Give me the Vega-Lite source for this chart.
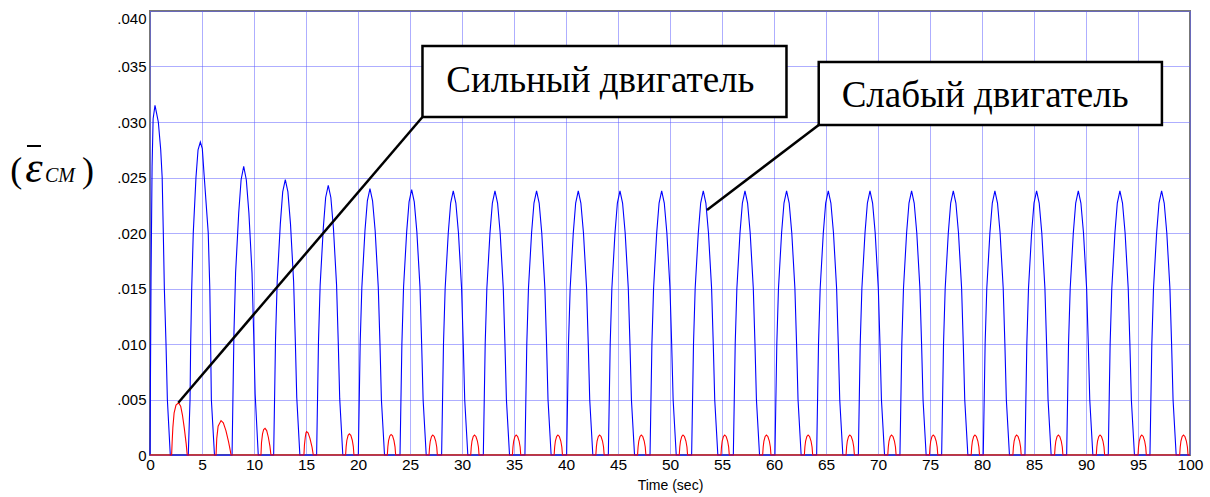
{
  "$schema": "https://vega.github.io/schema/vega-lite/v6.json",
  "autosize": {"type": "none"},
  "width": 1040,
  "height": 444,
  "padding": {"left": 150, "top": 11, "right": 20, "bottom": 42},
  "background": "white",
  "config": {"view": {"stroke": "#777777", "strokeWidth": 2}},
  "datasets": {
    "weak": [
      {"t":0,"v":0},{"t":0.1,"v":0.016},{"t":0.2,"v":0.026},{"t":0.3,"v":0.0303},{"t":0.48,"v":0.0315},{"t":0.65,"v":0.0307},{"t":0.8,"v":0.03},{"t":1.03,"v":0.0275},{"t":1.17,"v":0.025},{"t":1.28,"v":0.02},{"t":1.38,"v":0.015},{"t":1.54,"v":0.01},{"t":1.67,"v":0.005},{"t":1.95,"v":0},
      {"t":3.68,"v":0},{"t":3.85,"v":0.005},{"t":3.91,"v":0.01},{"t":4.01,"v":0.015},{"t":4.16,"v":0.02},{"t":4.42,"v":0.025},{"t":4.62,"v":0.0275},{"t":4.84,"v":0.0282},{"t":5.03,"v":0.0276},{"t":5.22,"v":0.025},{"t":5.6,"v":0.02},{"t":5.75,"v":0.015},{"t":5.83,"v":0.01},{"t":5.9,"v":0.005},{"t":6.2,"v":0},
      {"t":7.89,"v":0},{"t":7.98,"v":0.0055},{"t":8.07,"v":0.0109},{"t":8.23,"v":0.0164},{"t":8.53,"v":0.0218},{"t":8.76,"v":0.0248},{"t":9.01,"v":0.026},{"t":9.26,"v":0.0248},{"t":9.51,"v":0.0218},{"t":9.81,"v":0.0164},{"t":9.97,"v":0.0109},{"t":10.11,"v":0.0055},{"t":10.41,"v":0},
      {"t":11.89,"v":0},{"t":11.98,"v":0.0052},{"t":12.07,"v":0.0104},{"t":12.23,"v":0.0156},{"t":12.53,"v":0.0208},{"t":12.76,"v":0.0237},{"t":13.01,"v":0.0248},{"t":13.26,"v":0.0237},{"t":13.51,"v":0.0208},{"t":13.81,"v":0.0156},{"t":13.97,"v":0.0104},{"t":14.11,"v":0.0052},{"t":14.41,"v":0},
      {"t":16.02,"v":0},{"t":16.11,"v":0.0051},{"t":16.2,"v":0.0102},{"t":16.36,"v":0.0153},{"t":16.66,"v":0.0204},{"t":16.89,"v":0.0232},{"t":17.14,"v":0.0243},{"t":17.39,"v":0.0232},{"t":17.64,"v":0.0204},{"t":17.94,"v":0.0153},{"t":18.1,"v":0.0102},{"t":18.24,"v":0.0051},{"t":18.54,"v":0},
      {"t":20.03,"v":0},{"t":20.12,"v":0.005},{"t":20.21,"v":0.0101},{"t":20.37,"v":0.0151},{"t":20.67,"v":0.0202},{"t":20.9,"v":0.0229},{"t":21.15,"v":0.024},{"t":21.4,"v":0.0229},{"t":21.65,"v":0.0202},{"t":21.95,"v":0.0151},{"t":22.11,"v":0.0101},{"t":22.25,"v":0.005},{"t":22.55,"v":0},
      {"t":24.04,"v":0},{"t":24.13,"v":0.005},{"t":24.22,"v":0.01},{"t":24.38,"v":0.0151},{"t":24.68,"v":0.0201},{"t":24.91,"v":0.0228},{"t":25.16,"v":0.0239},{"t":25.41,"v":0.0228},{"t":25.66,"v":0.0201},{"t":25.96,"v":0.0151},{"t":26.12,"v":0.01},{"t":26.26,"v":0.005},{"t":26.56,"v":0},
      {"t":28.04,"v":0},{"t":28.13,"v":0.005},{"t":28.22,"v":0.01},{"t":28.38,"v":0.015},{"t":28.68,"v":0.02},{"t":28.91,"v":0.0227},{"t":29.16,"v":0.0238},{"t":29.41,"v":0.0227},{"t":29.66,"v":0.02},{"t":29.96,"v":0.015},{"t":30.12,"v":0.01},{"t":30.26,"v":0.005},{"t":30.56,"v":0},
      {"t":32.05,"v":0},{"t":32.14,"v":0.005},{"t":32.23,"v":0.01},{"t":32.39,"v":0.015},{"t":32.69,"v":0.02},{"t":32.92,"v":0.0227},{"t":33.17,"v":0.0238},{"t":33.42,"v":0.0227},{"t":33.67,"v":0.02},{"t":33.97,"v":0.015},{"t":34.13,"v":0.01},{"t":34.27,"v":0.005},{"t":34.57,"v":0},
      {"t":36.05,"v":0},{"t":36.14,"v":0.005},{"t":36.23,"v":0.01},{"t":36.39,"v":0.015},{"t":36.69,"v":0.02},{"t":36.92,"v":0.0227},{"t":37.17,"v":0.0238},{"t":37.42,"v":0.0227},{"t":37.67,"v":0.02},{"t":37.97,"v":0.015},{"t":38.13,"v":0.01},{"t":38.27,"v":0.005},{"t":38.57,"v":0},
      {"t":40.06,"v":0},{"t":40.15,"v":0.005},{"t":40.24,"v":0.01},{"t":40.4,"v":0.015},{"t":40.7,"v":0.02},{"t":40.93,"v":0.0227},{"t":41.18,"v":0.0238},{"t":41.43,"v":0.0227},{"t":41.68,"v":0.02},{"t":41.98,"v":0.015},{"t":42.14,"v":0.01},{"t":42.28,"v":0.005},{"t":42.58,"v":0},
      {"t":44.07,"v":0},{"t":44.16,"v":0.005},{"t":44.25,"v":0.01},{"t":44.41,"v":0.015},{"t":44.71,"v":0.02},{"t":44.94,"v":0.0227},{"t":45.19,"v":0.0238},{"t":45.44,"v":0.0227},{"t":45.69,"v":0.02},{"t":45.99,"v":0.015},{"t":46.15,"v":0.01},{"t":46.29,"v":0.005},{"t":46.59,"v":0},
      {"t":48.08,"v":0},{"t":48.17,"v":0.005},{"t":48.26,"v":0.01},{"t":48.42,"v":0.015},{"t":48.72,"v":0.02},{"t":48.95,"v":0.0227},{"t":49.2,"v":0.0238},{"t":49.45,"v":0.0227},{"t":49.7,"v":0.02},{"t":50.0,"v":0.015},{"t":50.16,"v":0.01},{"t":50.3,"v":0.005},{"t":50.6,"v":0},
      {"t":52.08,"v":0},{"t":52.17,"v":0.005},{"t":52.26,"v":0.01},{"t":52.42,"v":0.015},{"t":52.72,"v":0.02},{"t":52.95,"v":0.0227},{"t":53.2,"v":0.0238},{"t":53.45,"v":0.0227},{"t":53.7,"v":0.02},{"t":54.0,"v":0.015},{"t":54.16,"v":0.01},{"t":54.3,"v":0.005},{"t":54.6,"v":0},
      {"t":56.09,"v":0},{"t":56.18,"v":0.005},{"t":56.27,"v":0.01},{"t":56.43,"v":0.015},{"t":56.73,"v":0.02},{"t":56.96,"v":0.0227},{"t":57.21,"v":0.0238},{"t":57.46,"v":0.0227},{"t":57.71,"v":0.02},{"t":58.01,"v":0.015},{"t":58.17,"v":0.01},{"t":58.31,"v":0.005},{"t":58.61,"v":0},
      {"t":60.09,"v":0},{"t":60.18,"v":0.005},{"t":60.27,"v":0.01},{"t":60.43,"v":0.015},{"t":60.73,"v":0.02},{"t":60.96,"v":0.0227},{"t":61.21,"v":0.0238},{"t":61.46,"v":0.0227},{"t":61.71,"v":0.02},{"t":62.01,"v":0.015},{"t":62.17,"v":0.01},{"t":62.31,"v":0.005},{"t":62.61,"v":0},
      {"t":64.1,"v":0},{"t":64.19,"v":0.005},{"t":64.28,"v":0.01},{"t":64.44,"v":0.015},{"t":64.74,"v":0.02},{"t":64.97,"v":0.0227},{"t":65.22,"v":0.0238},{"t":65.47,"v":0.0227},{"t":65.72,"v":0.02},{"t":66.02,"v":0.015},{"t":66.18,"v":0.01},{"t":66.32,"v":0.005},{"t":66.62,"v":0},
      {"t":68.11,"v":0},{"t":68.2,"v":0.005},{"t":68.29,"v":0.01},{"t":68.45,"v":0.015},{"t":68.75,"v":0.02},{"t":68.98,"v":0.0227},{"t":69.23,"v":0.0238},{"t":69.48,"v":0.0227},{"t":69.73,"v":0.02},{"t":70.03,"v":0.015},{"t":70.19,"v":0.01},{"t":70.33,"v":0.005},{"t":70.63,"v":0},
      {"t":72.11,"v":0},{"t":72.2,"v":0.005},{"t":72.29,"v":0.01},{"t":72.45,"v":0.015},{"t":72.75,"v":0.02},{"t":72.98,"v":0.0227},{"t":73.23,"v":0.0238},{"t":73.48,"v":0.0227},{"t":73.73,"v":0.02},{"t":74.03,"v":0.015},{"t":74.19,"v":0.01},{"t":74.33,"v":0.005},{"t":74.63,"v":0},
      {"t":76.12,"v":0},{"t":76.21,"v":0.005},{"t":76.3,"v":0.01},{"t":76.46,"v":0.015},{"t":76.76,"v":0.02},{"t":76.99,"v":0.0227},{"t":77.24,"v":0.0238},{"t":77.49,"v":0.0227},{"t":77.74,"v":0.02},{"t":78.04,"v":0.015},{"t":78.2,"v":0.01},{"t":78.34,"v":0.005},{"t":78.64,"v":0},
      {"t":80.12,"v":0},{"t":80.21,"v":0.005},{"t":80.3,"v":0.01},{"t":80.46,"v":0.015},{"t":80.76,"v":0.02},{"t":80.99,"v":0.0227},{"t":81.24,"v":0.0238},{"t":81.49,"v":0.0227},{"t":81.74,"v":0.02},{"t":82.04,"v":0.015},{"t":82.2,"v":0.01},{"t":82.34,"v":0.005},{"t":82.64,"v":0},
      {"t":84.13,"v":0},{"t":84.22,"v":0.005},{"t":84.31,"v":0.01},{"t":84.47,"v":0.015},{"t":84.77,"v":0.02},{"t":85.0,"v":0.0227},{"t":85.25,"v":0.0238},{"t":85.5,"v":0.0227},{"t":85.75,"v":0.02},{"t":86.05,"v":0.015},{"t":86.21,"v":0.01},{"t":86.35,"v":0.005},{"t":86.65,"v":0},
      {"t":88.14,"v":0},{"t":88.23,"v":0.005},{"t":88.32,"v":0.01},{"t":88.48,"v":0.015},{"t":88.78,"v":0.02},{"t":89.01,"v":0.0227},{"t":89.26,"v":0.0238},{"t":89.51,"v":0.0227},{"t":89.76,"v":0.02},{"t":90.06,"v":0.015},{"t":90.22,"v":0.01},{"t":90.36,"v":0.005},{"t":90.66,"v":0},
      {"t":92.14,"v":0},{"t":92.23,"v":0.005},{"t":92.32,"v":0.01},{"t":92.48,"v":0.015},{"t":92.78,"v":0.02},{"t":93.01,"v":0.0227},{"t":93.26,"v":0.0238},{"t":93.51,"v":0.0227},{"t":93.76,"v":0.02},{"t":94.06,"v":0.015},{"t":94.22,"v":0.01},{"t":94.36,"v":0.005},{"t":94.66,"v":0},
      {"t":96.15,"v":0},{"t":96.24,"v":0.005},{"t":96.33,"v":0.01},{"t":96.49,"v":0.015},{"t":96.79,"v":0.02},{"t":97.02,"v":0.0227},{"t":97.27,"v":0.0238},{"t":97.52,"v":0.0227},{"t":97.77,"v":0.02},{"t":98.07,"v":0.015},{"t":98.23,"v":0.01},{"t":98.37,"v":0.005},{"t":98.67,"v":0},
      {"t":100,"v":0}
    ],
    "strong": [
      {"t":0,"v":0},
      {"t":2.08,"v":0},{"t":2.13,"v":0.0012},{"t":2.2,"v":0.0025},{"t":2.32,"v":0.0038},{"t":2.5,"v":0.0045},{"t":2.75,"v":0.0047},{"t":2.95,"v":0.0044},{"t":3.12,"v":0.0036},{"t":3.3,"v":0.0024},{"t":3.48,"v":0.001},{"t":3.58,"v":0},
      {"t":6.35,"v":0},{"t":6.42,"v":0.0015},{"t":6.55,"v":0.0026},{"t":6.83,"v":0.0031},{"t":7.05,"v":0.0029},{"t":7.3,"v":0.0022},{"t":7.55,"v":0.0012},{"t":7.72,"v":0.0004},{"t":7.79,"v":0},
      {"t":10.67,"v":0},{"t":10.72,"v":0.0011},{"t":10.82,"v":0.0019},{"t":10.93,"v":0.0023},{"t":11.06,"v":0.0024},{"t":11.22,"v":0.0022},{"t":11.38,"v":0.0016},{"t":11.53,"v":0.0008},{"t":11.63,"v":0},
      {"t":14.8,"v":0},{"t":14.85,"v":0.0009},{"t":14.93,"v":0.0016},{"t":15.0,"v":0.002},{"t":15.06,"v":0.0021},{"t":15.2,"v":0.002},{"t":15.38,"v":0.0015},{"t":15.58,"v":0.0007},{"t":15.7,"v":0},
      {"t":18.81,"v":0},{"t":18.86,"v":0.00076},{"t":18.93,"v":0.00133},{"t":19.05,"v":0.00177},{"t":19.17,"v":0.0019},{"t":19.31,"v":0.00177},{"t":19.45,"v":0.00133},{"t":19.55,"v":0.00076},{"t":19.61,"v":0},
      {"t":22.82,"v":0},{"t":22.87,"v":0.00074},{"t":22.94,"v":0.0013},{"t":23.06,"v":0.00172},{"t":23.18,"v":0.00185},{"t":23.32,"v":0.00172},{"t":23.46,"v":0.0013},{"t":23.56,"v":0.00074},{"t":23.62,"v":0},
      {"t":26.83,"v":0},{"t":26.88,"v":0.00072},{"t":26.95,"v":0.00126},{"t":27.07,"v":0.00167},{"t":27.19,"v":0.0018},{"t":27.33,"v":0.00167},{"t":27.47,"v":0.00126},{"t":27.57,"v":0.00072},{"t":27.63,"v":0},
      {"t":30.84,"v":0},{"t":30.89,"v":0.00072},{"t":30.96,"v":0.00126},{"t":31.08,"v":0.00167},{"t":31.2,"v":0.0018},{"t":31.34,"v":0.00167},{"t":31.48,"v":0.00126},{"t":31.58,"v":0.00072},{"t":31.64,"v":0},
      {"t":34.85,"v":0},{"t":34.9,"v":0.00072},{"t":34.97,"v":0.00126},{"t":35.09,"v":0.00167},{"t":35.21,"v":0.0018},{"t":35.35,"v":0.00167},{"t":35.49,"v":0.00126},{"t":35.59,"v":0.00072},{"t":35.65,"v":0},
      {"t":38.86,"v":0},{"t":38.91,"v":0.00072},{"t":38.98,"v":0.00126},{"t":39.1,"v":0.00167},{"t":39.22,"v":0.0018},{"t":39.36,"v":0.00167},{"t":39.5,"v":0.00126},{"t":39.6,"v":0.00072},{"t":39.66,"v":0},
      {"t":42.87,"v":0},{"t":42.92,"v":0.00072},{"t":42.99,"v":0.00126},{"t":43.11,"v":0.00167},{"t":43.23,"v":0.0018},{"t":43.37,"v":0.00167},{"t":43.51,"v":0.00126},{"t":43.61,"v":0.00072},{"t":43.67,"v":0},
      {"t":46.88,"v":0},{"t":46.93,"v":0.00072},{"t":47.0,"v":0.00126},{"t":47.12,"v":0.00167},{"t":47.24,"v":0.0018},{"t":47.38,"v":0.00167},{"t":47.52,"v":0.00126},{"t":47.62,"v":0.00072},{"t":47.68,"v":0},
      {"t":50.89,"v":0},{"t":50.94,"v":0.00072},{"t":51.01,"v":0.00126},{"t":51.13,"v":0.00167},{"t":51.25,"v":0.0018},{"t":51.39,"v":0.00167},{"t":51.53,"v":0.00126},{"t":51.63,"v":0.00072},{"t":51.69,"v":0},
      {"t":54.9,"v":0},{"t":54.95,"v":0.00072},{"t":55.02,"v":0.00126},{"t":55.14,"v":0.00167},{"t":55.26,"v":0.0018},{"t":55.4,"v":0.00167},{"t":55.54,"v":0.00126},{"t":55.64,"v":0.00072},{"t":55.7,"v":0},
      {"t":58.91,"v":0},{"t":58.96,"v":0.00072},{"t":59.03,"v":0.00126},{"t":59.15,"v":0.00167},{"t":59.27,"v":0.0018},{"t":59.41,"v":0.00167},{"t":59.55,"v":0.00126},{"t":59.65,"v":0.00072},{"t":59.71,"v":0},
      {"t":62.92,"v":0},{"t":62.97,"v":0.00072},{"t":63.04,"v":0.00126},{"t":63.16,"v":0.00167},{"t":63.28,"v":0.0018},{"t":63.42,"v":0.00167},{"t":63.56,"v":0.00126},{"t":63.66,"v":0.00072},{"t":63.72,"v":0},
      {"t":66.93,"v":0},{"t":66.98,"v":0.00072},{"t":67.05,"v":0.00126},{"t":67.17,"v":0.00167},{"t":67.29,"v":0.0018},{"t":67.43,"v":0.00167},{"t":67.57,"v":0.00126},{"t":67.67,"v":0.00072},{"t":67.73,"v":0},
      {"t":70.94,"v":0},{"t":70.99,"v":0.00072},{"t":71.06,"v":0.00126},{"t":71.18,"v":0.00167},{"t":71.3,"v":0.0018},{"t":71.44,"v":0.00167},{"t":71.58,"v":0.00126},{"t":71.68,"v":0.00072},{"t":71.74,"v":0},
      {"t":74.95,"v":0},{"t":75.0,"v":0.00072},{"t":75.07,"v":0.00126},{"t":75.19,"v":0.00167},{"t":75.31,"v":0.0018},{"t":75.45,"v":0.00167},{"t":75.59,"v":0.00126},{"t":75.69,"v":0.00072},{"t":75.75,"v":0},
      {"t":78.96,"v":0},{"t":79.01,"v":0.00072},{"t":79.08,"v":0.00126},{"t":79.2,"v":0.00167},{"t":79.32,"v":0.0018},{"t":79.46,"v":0.00167},{"t":79.6,"v":0.00126},{"t":79.7,"v":0.00072},{"t":79.76,"v":0},
      {"t":82.97,"v":0},{"t":83.02,"v":0.00072},{"t":83.09,"v":0.00126},{"t":83.21,"v":0.00167},{"t":83.33,"v":0.0018},{"t":83.47,"v":0.00167},{"t":83.61,"v":0.00126},{"t":83.71,"v":0.00072},{"t":83.77,"v":0},
      {"t":86.98,"v":0},{"t":87.03,"v":0.00072},{"t":87.1,"v":0.00126},{"t":87.22,"v":0.00167},{"t":87.34,"v":0.0018},{"t":87.48,"v":0.00167},{"t":87.62,"v":0.00126},{"t":87.72,"v":0.00072},{"t":87.78,"v":0},
      {"t":90.99,"v":0},{"t":91.04,"v":0.00072},{"t":91.11,"v":0.00126},{"t":91.23,"v":0.00167},{"t":91.35,"v":0.0018},{"t":91.49,"v":0.00167},{"t":91.63,"v":0.00126},{"t":91.73,"v":0.00072},{"t":91.79,"v":0},
      {"t":95.0,"v":0},{"t":95.05,"v":0.00072},{"t":95.12,"v":0.00126},{"t":95.24,"v":0.00167},{"t":95.36,"v":0.0018},{"t":95.5,"v":0.00167},{"t":95.64,"v":0.00126},{"t":95.74,"v":0.00072},{"t":95.8,"v":0},
      {"t":99.01,"v":0},{"t":99.06,"v":0.00072},{"t":99.13,"v":0.00126},{"t":99.25,"v":0.00167},{"t":99.37,"v":0.0018},{"t":99.51,"v":0.00167},{"t":99.65,"v":0.00126},{"t":99.75,"v":0.00072},{"t":99.81,"v":0},
      {"t":100,"v":0}
    ],
    "pointers": [
      {"t":26.2,"v":0.03045,"t2":2.72,"v2":0.00471},
      {"t":64.3,"v":0.02973,"t2":53.56,"v2":0.02207}
    ],
    "boxes": [
      {"t":26.2,"t2":61.2,"v":0.03685,"v2":0.03045},
      {"t":64.3,"t2":97.3,"v":0.0354,"v2":0.02973}
    ],
    "boxtext": [
      {"t":43.3,"v":0.0327,"label":"Сильный двигатель"},
      {"t":80.3,"v":0.03135,"label":"Слабый двигатель"}
    ],
    "parens": [
      {"t":-12.85,"v":0.0246,"label":"("},
      {"t":-5.96,"v":0.0246,"label":")"}
    ],
    "eps": [
      {"t":-11.17,"v":0.0246,"label":"ε"}
    ],
    "sub": [
      {"t":-10.1,"v":0.0246,"label":"CM"}
    ],
    "bar": [
      {"t":-11.83,"t2":-10.48,"v":0.02784}
    ]
  },
  "layer": [
    {
      "data": {"name": "weak"},
      "mark": {"type": "line", "color": "#0000ff", "strokeWidth": 1.1, "interpolate": "linear"},
      "encoding": {
        "x": {"field": "t", "type": "quantitative", "scale": {"domain": [0, 100], "nice": false, "zero": false},
          "axis": {"values": [0,5,10,15,20,25,30,35,40,45,50,55,60,65,70,75,80,85,90,95,100], "format": "d",
            "title": "Time (sec)", "titleFont": "Liberation Sans", "titleFontSize": 14, "titleFontWeight": "normal", "titleColor": "#000000", "titlePadding": 6,
            "labelFont": "Liberation Sans", "labelFontSize": 15.5, "labelColor": "#000000", "labelPadding": 2, "labelFlush": false, "labelOverlap": false,
            "domain": false, "ticks": false, "tickSize": 0,
            "grid": true, "gridColor": "#5c5cff", "gridDash": [1, 1], "gridWidth": 1, "gridOpacity": 1}},
        "y": {"field": "v", "type": "quantitative", "scale": {"domain": [0, 0.04], "nice": false, "zero": false},
          "axis": {"values": [0,0.005,0.01,0.015,0.02,0.025,0.03,0.035,0.04],
            "labelExpr": "datum.value == 0 ? '0' : replace(format(datum.value, '.3f'), '0.', '.')",
            "title": null,
            "labelFont": "Liberation Sans", "labelFontSize": 15, "labelColor": "#000000", "labelPadding": 4, "labelFlush": false,
            "labelBaseline": {"condition": {"test": "datum.value > 0.0395", "value": "top"}, "value": "middle"},
            "domain": false, "ticks": false, "tickSize": 0,
            "grid": true, "gridColor": "#5c5cff", "gridDash": [1, 1], "gridWidth": 1, "gridOpacity": 1}}
      }
    },
    {
      "data": {"name": "strong"},
      "mark": {"type": "line", "color": "#ff0000", "strokeWidth": 1.1, "interpolate": "linear"},
      "encoding": {
        "x": {"field": "t", "type": "quantitative", "scale": {"domain": [0, 100], "nice": false, "zero": false}},
        "y": {"field": "v", "type": "quantitative", "scale": {"domain": [0, 0.04], "nice": false, "zero": false}}
      }
    },
    {
      "data": {"name": "pointers"},
      "mark": {"type": "rule", "color": "#000000", "strokeWidth": 2.5},
      "encoding": {
        "x": {"field": "t", "type": "quantitative", "scale": {"domain": [0, 100], "nice": false, "zero": false}},
        "x2": {"field": "t2"},
        "y": {"field": "v", "type": "quantitative", "scale": {"domain": [0, 0.04], "nice": false, "zero": false}},
        "y2": {"field": "v2"}
      }
    },
    {
      "data": {"name": "boxes"},
      "mark": {"type": "rect", "fill": "#ffffff", "stroke": "#000000", "strokeWidth": 2.5},
      "encoding": {
        "x": {"field": "t", "type": "quantitative", "scale": {"domain": [0, 100], "nice": false, "zero": false}},
        "x2": {"field": "t2"},
        "y": {"field": "v", "type": "quantitative", "scale": {"domain": [0, 0.04], "nice": false, "zero": false}},
        "y2": {"field": "v2"}
      }
    },
    {
      "data": {"name": "boxtext"},
      "mark": {"type": "text", "font": "Liberation Serif", "fontSize": 37, "color": "#000000", "align": "center", "baseline": "alphabetic"},
      "encoding": {
        "x": {"field": "t", "type": "quantitative", "scale": {"domain": [0, 100], "nice": false, "zero": false}},
        "y": {"field": "v", "type": "quantitative", "scale": {"domain": [0, 0.04], "nice": false, "zero": false}},
        "text": {"field": "label"}
      }
    },
    {
      "data": {"name": "parens"},
      "mark": {"type": "text", "font": "Liberation Serif", "fontSize": 36, "color": "#000000", "align": "center", "baseline": "alphabetic", "clip": false},
      "encoding": {
        "x": {"field": "t", "type": "quantitative", "scale": {"domain": [0, 100], "nice": false, "zero": false}},
        "y": {"field": "v", "type": "quantitative", "scale": {"domain": [0, 0.04], "nice": false, "zero": false}},
        "text": {"field": "label"}
      }
    },
    {
      "data": {"name": "eps"},
      "mark": {"type": "text", "font": "Liberation Serif", "fontSize": 44, "fontStyle": "italic", "color": "#000000", "align": "center", "baseline": "alphabetic", "clip": false},
      "encoding": {
        "x": {"field": "t", "type": "quantitative", "scale": {"domain": [0, 100], "nice": false, "zero": false}},
        "y": {"field": "v", "type": "quantitative", "scale": {"domain": [0, 0.04], "nice": false, "zero": false}},
        "text": {"field": "label"}
      }
    },
    {
      "data": {"name": "sub"},
      "mark": {"type": "text", "font": "Liberation Serif", "fontSize": 20, "fontStyle": "italic", "color": "#000000", "align": "left", "baseline": "alphabetic", "clip": false},
      "encoding": {
        "x": {"field": "t", "type": "quantitative", "scale": {"domain": [0, 100], "nice": false, "zero": false}},
        "y": {"field": "v", "type": "quantitative", "scale": {"domain": [0, 0.04], "nice": false, "zero": false}},
        "text": {"field": "label"}
      }
    },
    {
      "data": {"name": "bar"},
      "mark": {"type": "rule", "color": "#000000", "strokeWidth": 2, "clip": false},
      "encoding": {
        "x": {"field": "t", "type": "quantitative", "scale": {"domain": [0, 100], "nice": false, "zero": false}},
        "x2": {"field": "t2"},
        "y": {"field": "v", "type": "quantitative", "scale": {"domain": [0, 0.04], "nice": false, "zero": false}}
      }
    }
  ]
}
